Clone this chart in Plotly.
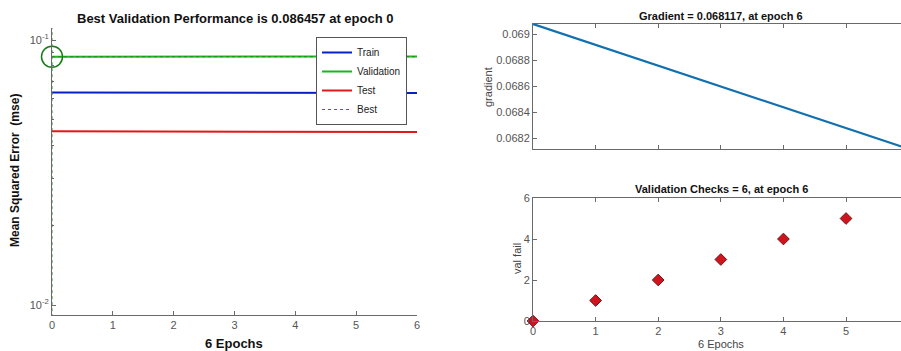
import plotly.graph_objects as go

W, H = 901, 351

# ---- data ----
epochs = [0, 1, 2, 3, 4, 5, 6]
train_mse = [0.06335, 0.06330, 0.06326, 0.06322, 0.06318, 0.06314, 0.06310]
valid_mse = [0.086457, 0.08648, 0.08652, 0.08655, 0.08658, 0.08661, 0.08664]
test_mse = [0.04525, 0.04520, 0.04514, 0.04510, 0.04505, 0.04500, 0.04496]
best_epoch = 0
best_perf = 0.086457
gradient = [0.069077, 0.068916, 0.068756, 0.068596, 0.068436, 0.068276, 0.068117]
val_fail = [0, 1, 2, 3, 4, 5, 6]

perf_ticks = [0.01, 0.1]
perf_ticktext = ["10<sup>-2</sup>", "10<sup>-1</sup>"]
perf_minor = [0.02, 0.03, 0.04, 0.05, 0.06, 0.07, 0.08, 0.09]
grad_ticks = [0.0682, 0.0684, 0.0686, 0.0688, 0.069]
grad_ticktext = ["0.0682", "0.0684", "0.0686", "0.0688", "0.069"]
vf_ticks = [0, 2, 4, 6]


def px(x):
    return x / W


def py(y):
    return 1 - y / H


fig = go.Figure()

# left plot traces
fig.add_trace(go.Scatter(x=epochs, y=train_mse, mode="lines", name="Train",
                         line=dict(color="#0a1fc8", width=2), xaxis="x", yaxis="y"))
fig.add_trace(go.Scatter(x=epochs, y=valid_mse, mode="lines", name="Validation",
                         line=dict(color="#17b817", width=2), xaxis="x", yaxis="y"))
fig.add_trace(go.Scatter(x=epochs, y=test_mse, mode="lines", name="Test",
                         line=dict(color="#e01818", width=2), xaxis="x", yaxis="y"))
fig.add_trace(go.Scatter(x=[epochs[0], epochs[-1], None, best_epoch, best_epoch],
                         y=[best_perf, best_perf, None, 0.009, 0.12],
                         mode="lines", name="Best",
                         line=dict(color="#2a8a2a", width=1, dash="dot"),
                         xaxis="x", yaxis="y"))
fig.add_trace(go.Scatter(x=[best_epoch], y=[best_perf], mode="markers", showlegend=False,
                         marker=dict(symbol="circle-open", size=21,
                                     line=dict(color="#1a7a1a", width=1.5), color="#1a7a1a"),
                         xaxis="x", yaxis="y", cliponaxis=False))

# gradient
fig.add_trace(go.Scatter(x=epochs, y=gradient, mode="lines", showlegend=False,
                         line=dict(color="#1070b0", width=2.2), xaxis="x2", yaxis="y2"))
# validation checks
fig.add_trace(go.Scatter(x=epochs, y=val_fail, mode="markers", showlegend=False,
                         marker=dict(symbol="diamond", size=9, color="#d0141e",
                                     line=dict(color="#701014", width=1)),
                         xaxis="x3", yaxis="y3", cliponaxis=False))

axis_common = dict(showgrid=False, zeroline=False, showline=True, linecolor="#6a6a6a",
                   linewidth=1, ticks="inside", tickcolor="#6a6a6a", ticklen=4,
                   automargin=False,
                   tickfont=dict(family="Liberation Sans, Arial", size=11, color="#555555"))

fig.update_layout(
    width=W, height=H,
    margin=dict(l=0, r=0, t=0, b=0),
    paper_bgcolor="white", plot_bgcolor="white",
    showlegend=True,
    legend=dict(x=px(407), y=py(37), xanchor="right", yanchor="top",
                bgcolor="white", bordercolor="#555555", borderwidth=1,
                font=dict(family="Liberation Sans, Arial", size=10, color="#222222"),
                tracegroupgap=0, itemwidth=30),
    xaxis=dict(domain=[px(52), px(417)], range=[0, 6], tickvals=epochs,
               anchor="y", **axis_common),
    yaxis=dict(domain=[py(315), py(28)], type="log", range=[-2.0377, -0.9547],
               tickvals=perf_ticks, ticktext=perf_ticktext, anchor="x",
               minor=dict(tickvals=perf_minor, ticks="inside", ticklen=2, tickcolor="#6a6a6a"),
               **axis_common),
    xaxis2=dict(domain=[px(533), 1.0], range=[0, 5.878], tickvals=epochs,
                showticklabels=False, mirror="ticks", anchor="y2", **axis_common),
    yaxis2=dict(domain=[py(149), py(24)], range=[0.068117, 0.069077],
                tickvals=grad_ticks, ticktext=grad_ticktext, anchor="x2", **axis_common),
    xaxis3=dict(domain=[px(533), 1.0], range=[0, 5.878], tickvals=epochs,
                mirror="ticks", anchor="y3", **axis_common),
    yaxis3=dict(domain=[py(321), py(198)], range=[0, 6], tickvals=vf_ticks,
                anchor="x3", **axis_common),
)

ann = []
bold = dict(family="Liberation Sans, Arial", color="#111111")
ann.append(dict(text="<b>Best Validation Performance is 0.086457 at epoch 0</b>",
                x=px(235), y=py(18), font=dict(size=13, **bold)))
ann.append(dict(text="<b>Mean Squared Error  (mse)</b>", x=px(15), y=py(171),
                textangle=-90, font=dict(size=12, **bold)))
ann.append(dict(text="<b>6 Epochs</b>", x=px(234), y=py(343), font=dict(size=13, **bold)))
ann.append(dict(text="<b>Gradient = 0.068117, at epoch 6</b>", x=px(721), y=py(16),
                font=dict(size=11, **bold)))
ann.append(dict(text="gradient", x=px(488), y=py(87), textangle=-90,
                font=dict(size=11, family="Liberation Sans, Arial", color="#444444")))
ann.append(dict(text="<b>Validation Checks = 6, at epoch 6</b>", x=px(721), y=py(189),
                font=dict(size=11, **bold)))
ann.append(dict(text="val fail", x=px(517), y=py(259), textangle=-90,
                font=dict(size=11, family="Liberation Sans, Arial", color="#444444")))
ann.append(dict(text="6 Epochs", x=px(721), y=py(344),
                font=dict(size=11, family="Liberation Sans, Arial", color="#444444")))
for a in ann:
    a.update(xref="paper", yref="paper", showarrow=False, xanchor="center", yanchor="middle")
fig.update_layout(annotations=ann)

fig.write_html("out.html", config={"displayModeBar": False},
               post_script="document.body.style.margin='0';document.body.style.padding='0';"
                           "document.body.style.overflow='hidden';")
